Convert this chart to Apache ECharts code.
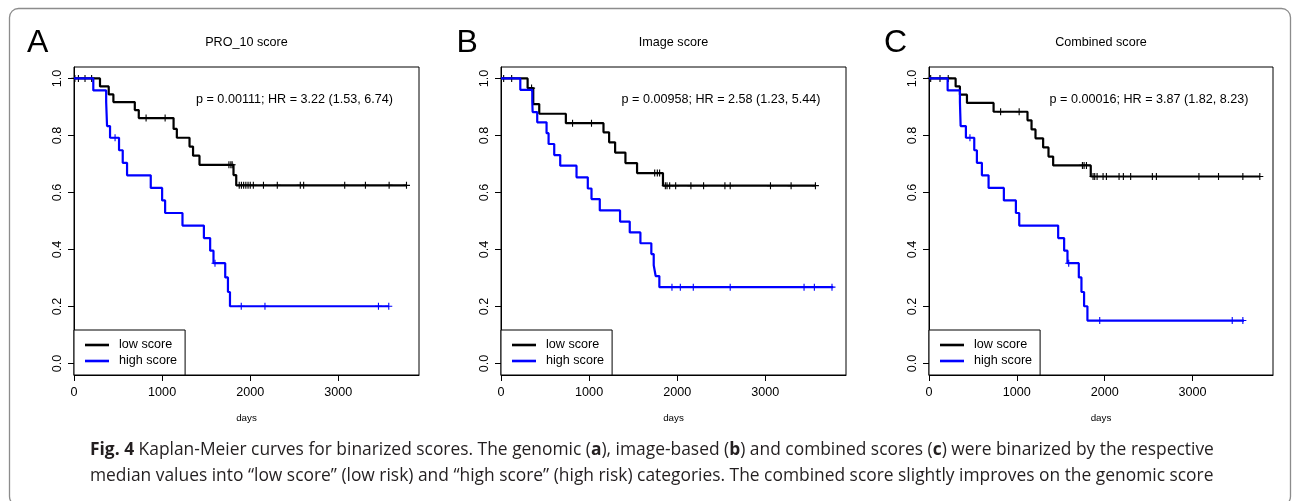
<!DOCTYPE html>
<html><head><meta charset="utf-8">
<script src="https://cdn.jsdelivr.net/npm/echarts@6/dist/echarts.min.js"></script>
<style>html,body{margin:0;padding:0;background:#fff}#c{width:1292px;height:501px}</style>
</head><body><div id="c"></div>
<script>
// ---------- tick labels / texts ----------
const xTicks = [0, 1000, 2000, 3000];
const yTicks = [0, 0.2, 0.4, 0.6, 0.8, 1.0];
const panelLetters = ['A', 'B', 'C'];
const panelTitles = ['PRO_10 score', 'Image score', 'Combined score'];
const statTexts = [
  'p = 0.00111; HR = 3.22 (1.53, 6.74)',
  'p = 0.00958; HR = 2.58 (1.23, 5.44)',
  'p = 0.00016; HR = 3.87 (1.82, 8.23)'
];
const groupNames = ['low score', 'high score'];
const xLabel = 'days';

// ---------- Panel A (PRO_10 score) ----------
const aLowT  = [0, 295, 394, 447, 690, 735, 1130, 1167, 1311, 1351, 1424, 1810, 1841, 3773];
const aLowS  = [1, 0.972, 0.944, 0.917, 0.889, 0.861, 0.823, 0.792, 0.761, 0.729, 0.697, 0.661, 0.625, 0.625];
const aLowCens = [10, 50, 125, 200, 818, 1034, 1758, 1780, 1795, 1875, 1900, 1925, 1950, 1975, 2000, 2035, 2150, 2307, 2568, 2606, 3072, 3307, 3576, 3773];
const aHighT = [0, 219, 365, 370, 375, 409, 511, 553, 602, 871, 1000, 1034, 1231, 1474, 1545, 1583, 1716, 1747, 1770, 3572];
const aHighS = [1, 0.958, 0.917, 0.875, 0.833, 0.792, 0.748, 0.704, 0.660, 0.616, 0.572, 0.528, 0.484, 0.440, 0.396, 0.352, 0.302, 0.251, 0.201, 0.201];
const aHighCens = [466, 1600, 1898, 2167, 3455, 3572];

// ---------- Panel B (Image score) ----------
const bLowT  = [0, 302, 366, 434, 736, 1163, 1227, 1295, 1412, 1544, 1838, 3575];
const bLowS  = [1, 0.966, 0.910, 0.876, 0.843, 0.811, 0.776, 0.740, 0.703, 0.668, 0.624, 0.624];
const bLowCens = [30, 121, 347, 812, 1027, 1744, 1774, 1800, 1865, 1884, 1914, 1982, 2155, 2299, 2541, 2601, 3058, 3292, 3568];
const bHighT = [0, 219, 355, 359, 411, 517, 540, 604, 672, 857, 985, 1027, 1121, 1351, 1461, 1582, 1706, 1733, 1755, 1797, 3770];
const bHighS = [1, 0.960, 0.920, 0.882, 0.846, 0.808, 0.770, 0.731, 0.694, 0.653, 0.614, 0.577, 0.537, 0.498, 0.460, 0.422, 0.384, 0.345, 0.307, 0.268, 0.268];
const bHighCens = [1940, 2035, 2182, 2601, 3439, 3556, 3756];

// ---------- Panel C (Combined score) ----------
const cLowT  = [0, 303, 352, 432, 735, 1121, 1167, 1212, 1299, 1360, 1413, 1841, 3765];
const cLowS  = [1, 0.972, 0.943, 0.914, 0.883, 0.853, 0.821, 0.790, 0.758, 0.726, 0.695, 0.656, 0.656];
const cLowCens = [19, 125, 219, 815, 1026, 1746, 1765, 1792, 1867, 1886, 1913, 1981, 2019, 2163, 2212, 2295, 2542, 2588, 3072, 3295, 3572, 3765];
const cHighT = [0, 212, 352, 356, 360, 420, 515, 545, 602, 678, 852, 989, 1027, 1470, 1538, 1576, 1705, 1735, 1765, 1803, 3585];
const cHighS = [1, 0.958, 0.917, 0.875, 0.833, 0.792, 0.748, 0.704, 0.660, 0.616, 0.572, 0.528, 0.484, 0.440, 0.396, 0.352, 0.302, 0.251, 0.201, 0.151, 0.151];
const cHighCens = [466, 1590, 1943, 3451, 3572];

// ---------- caption ----------
const captionLine1 = [['b', 'Fig. 4'], ['r', ' Kaplan-Meier curves for binarized scores. The genomic ('], ['b', 'a'], ['r', '), image-based ('], ['b', 'b'], ['r', ') and combined scores ('], ['b', 'c'], ['r', ') were binarized by the respective']];
const captionLine2 = 'median values into \u201clow score\u201d (low risk) and \u201chigh score\u201d (high risk) categories. The combined score slightly improves on the genomic score';

// ---------- layout ----------
const FONT = 'Liberation Sans, Arial, Helvetica, sans-serif';
const CAPFONT = 'Open Sans';
const grids = [
  { left: 74, top: 67, width: 345, height: 308 },
  { left: 501, top: 67, width: 345, height: 308 },
  { left: 929, top: 67, width: 344, height: 308 }
];
const letterX = [27, 456.5, 884];
const statX = [294.5, 721, 1149];
const colors = ['#000000', '#0000ff'];

const panels = [
  [[aLowT, aLowS, aLowCens], [aHighT, aHighS, aHighCens]],
  [[bLowT, bLowS, bLowCens], [bHighT, bHighS, bHighCens]],
  [[cLowT, cLowS, cLowCens], [cHighT, cHighS, cHighCens]]
];

function survAt(T, S, t) {
  let s = 1;
  for (let i = 0; i < T.length; i++) if (T[i] <= t) s = S[i];
  return s;
}

const series = [];
const xAxes = [], yAxes = [], legends = [];
panels.forEach((p, gi) => {
  xAxes.push({
    type: 'value', gridIndex: gi, min: 0, max: 3915, position: 'bottom',
    axisLine: { show: true, onZero: false, lineStyle: { color: '#000', width: 1 } }, splitLine: { show: false },
    axisTick: { show: true, inside: false, customValues: xTicks, length: 6, lineStyle: { color: '#000', width: 1 } },
    axisLabel: { customValues: xTicks, color: '#000', fontSize: 12.6, fontFamily: FONT, margin: 11,
      formatter: v => String(Math.round(v)) },
    name: xLabel, nameLocation: 'middle', nameGap: 38,
    nameTextStyle: { color: '#000', fontSize: 9.8, fontFamily: FONT }
  });
  yAxes.push({
    type: 'value', gridIndex: gi, min: -0.04, max: 1.04, position: 'left',
    axisLine: { show: true, onZero: false, lineStyle: { color: '#000', width: 1 } }, splitLine: { show: false },
    axisTick: { show: true, inside: false, customValues: yTicks, length: 6, lineStyle: { color: '#000', width: 1 } },
    axisLabel: { customValues: yTicks, rotate: 90, color: '#000', fontSize: 12.6, fontFamily: FONT, margin: 10,
      formatter: v => Number(v).toFixed(1) }
  });
  legends.push({
    left: grids[gi].left, top: 330, orient: 'vertical', selectedMode: false,
    data: groupNames, icon: 'rect', itemWidth: 24, itemHeight: 2.6, itemGap: 0,
    padding: [7, 8, 6, 11], borderColor: '#000', borderWidth: 1, borderRadius: 0, backgroundColor: '#fff',
    textStyle: { fontSize: 12.6, fontFamily: FONT, color: '#000', lineHeight: 16, padding: [0, 0, 0, 5] }
  });
  p.forEach((g, k) => {
    const [T, S, C] = g;
    series.push({
      name: groupNames[k], type: 'line', step: 'end', xAxisIndex: gi, yAxisIndex: gi,
      data: T.map((t, i) => [t, S[i]]), symbol: 'none', color: colors[k],
      lineStyle: { color: colors[k], width: 2.2 }, itemStyle: { color: colors[k] },
      silent: true, animation: false, z: 2 + k
    });
    series.push({
      name: groupNames[k] + ' censored', type: 'scatter', xAxisIndex: gi, yAxisIndex: gi,
      data: C.map(t => [t, survAt(T, S, t)]),
      symbol: 'path://M5,0L5,10M0,5L10,5', symbolSize: 7,
      itemStyle: { color: 'none', borderColor: colors[k], borderWidth: 1.1, opacity: 1 },
      silent: true, animation: false, z: 2 + k
    });
  });
});

// caption font fitting
const mctx = document.createElement('canvas').getContext('2d');
function mw(weight, txt) { mctx.font = weight + ' 100px "' + CAPFONT + '"'; return mctx.measureText(txt).width; }
let w100 = 0;
captionLine1.forEach(([k, t]) => { w100 += mw(k === 'b' ? 'bold' : 'normal', t); });
const capSize = Math.round(1123 / w100 * 100 * 10) / 10;
const capText1 = captionLine1.map(([k, t]) => k === 'b' ? '{b|' + t + '}' : t).join('');

const graphics = [
  { type: 'rect', shape: { x: 9.5, y: 8.5, width: 1281, height: 497, r: 9 },
    style: { fill: 'none', stroke: '#8c8c8c', lineWidth: 1.3 }, silent: true }
];
grids.forEach((g, gi) => {
  graphics.push({ type: 'text', x: letterX[gi], y: 43,
    style: { text: panelLetters[gi], font: '32px ' + FONT, fill: '#000', textAlign: 'left', textVerticalAlign: 'middle' } });
  graphics.push({ type: 'text', x: g.left + g.width / 2, y: 43,
    style: { text: panelTitles[gi], font: '12.6px ' + FONT, fill: '#000', textAlign: 'center', textVerticalAlign: 'middle' } });
  graphics.push({ type: 'text', x: statX[gi], y: 100,
    style: { text: statTexts[gi], font: '12.6px ' + FONT, fill: '#000', textAlign: 'center', textVerticalAlign: 'middle' } });
});
graphics.push({ type: 'text', x: 90, y: 450,
  style: { text: capText1, fontFamily: CAPFONT, fontSize: capSize, fill: '#231f20', textVerticalAlign: 'middle',
    rich: { b: { fontFamily: CAPFONT, fontSize: capSize, fontWeight: 'bold', fill: '#231f20' } } } });
graphics.push({ type: 'text', x: 90, y: 476,
  style: { text: captionLine2, fontFamily: CAPFONT, fontSize: capSize, fill: '#231f20', textVerticalAlign: 'middle' } });

const chart = echarts.init(document.getElementById('c'), null, { renderer: 'canvas' });
chart.setOption({
  backgroundColor: '#fff',
  animation: false,
  grid: grids.map(g => Object.assign({ show: true, borderColor: '#000', borderWidth: 1, backgroundColor: 'transparent', containLabel: false }, g)),
  xAxis: xAxes, yAxis: yAxes, legend: legends, series: series, graphic: graphics
});
</script></body></html>
